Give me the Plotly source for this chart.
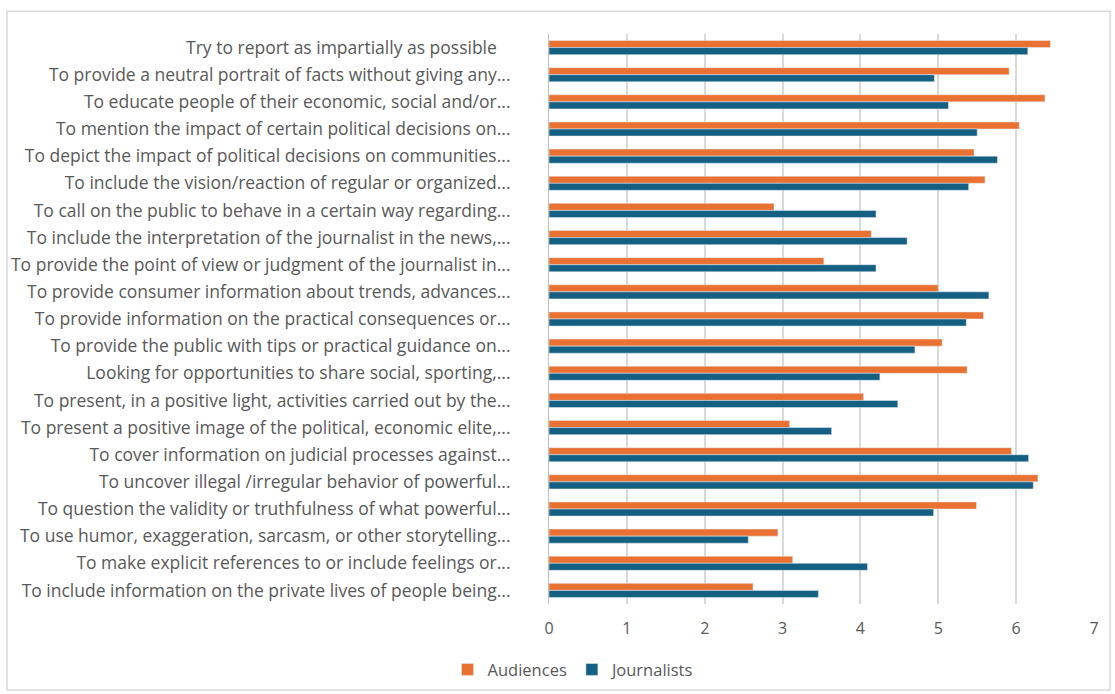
import plotly.graph_objects as go

categories = [
    "Try to report as impartially as possible\u00a0\u00a0\u00a0",
    "To provide a neutral portrait of facts without giving any...",
    "To educate people of their economic, social and/or...",
    "To mention the impact of certain political decisions on...",
    "To depict the impact of political decisions on communities...",
    "To include the vision/reaction of regular or organized...",
    "To call on the public to behave in a certain way regarding...",
    "To include the interpretation of the journalist in the news,...",
    "To provide the point of view or judgment of the journalist in...",
    "To provide consumer information about trends, advances...",
    "To provide information on the practical consequences or...",
    "To provide the public with tips or practical guidance on...",
    "Looking for opportunities to share social, sporting,...",
    "To present, in a positive light, activities carried out by the...",
    "To present a positive image of the political, economic elite,...",
    "To cover information on judicial processes against...",
    "To uncover illegal /irregular behavior of powerful...",
    "To question the validity or truthfulness of what powerful...",
    "To use humor, exaggeration, sarcasm, or other storytelling...",
    "To make explicit references to or include feelings or...",
    "To include information on the private lives of people being...",
]

audiences = [6.44, 5.91, 6.37, 6.04, 5.46, 5.60, 2.89, 4.14, 3.53, 5.00, 5.58,
             5.05, 5.37, 4.04, 3.09, 5.94, 6.28, 5.49, 2.94, 3.13, 2.62]
journalists = [6.15, 4.95, 5.13, 5.50, 5.76, 5.39, 4.20, 4.60, 4.20, 5.65, 5.36,
               4.70, 4.25, 4.48, 3.63, 6.16, 6.22, 4.94, 2.56, 4.09, 3.46]

x_ticks = [0, 1, 2, 3, 4, 5, 6, 7]

ORANGE = "#E97132"
BLUE = "#156082"
GRAY_TXT = "#595959"
FONT = "Open Sans, Lato, sans-serif"

fig = go.Figure()
fig.add_trace(go.Bar(y=categories, x=audiences, orientation="h", name="Audiences",
                     marker=dict(color=ORANGE)))
fig.add_trace(go.Bar(y=categories, x=journalists, orientation="h", name="Journalists",
                     marker=dict(color=BLUE)))

fig.update_layout(
    width=1115, height=694,
    margin=dict(l=549, r=21, t=34, b=90, autoexpand=False),
    paper_bgcolor="white", plot_bgcolor="white",
    barmode="group", bargap=0.48, bargroupgap=0,
    font=dict(family=FONT, color=GRAY_TXT, size=15),
    legend=dict(orientation="h", xref="paper", x=0.045, xanchor="center",
                yref="container", y=0.035, yanchor="middle",
                font=dict(size=16.5, color=GRAY_TXT), traceorder="normal",
                itemwidth=30),
    showlegend=True,
)
fig.update_xaxes(range=[0, 7], tickvals=x_ticks, showgrid=True, gridcolor="#D9D9D9",
                 gridwidth=1.5, zeroline=False, showline=False, ticks="",
                 ticklabelstandoff=13, tickfont=dict(size=16, color=GRAY_TXT))
fig.update_yaxes(autorange="reversed", showgrid=False, showline=True, linecolor="#BFBFBF",
                 ticks="", tickfont=dict(size=17.5, color=GRAY_TXT), ticklabelstandoff=34)

fig.add_shape(type="rect", xref="paper", yref="paper",
              x0=-0.9945, x1=1.0294, y0=-0.151, y1=1.040,
              line=dict(color="#D9D9D9", width=1.5), layer="below")

fig.write_html("out.html", config={"displayModeBar": False},
               post_script="document.body.style.margin='0';")
